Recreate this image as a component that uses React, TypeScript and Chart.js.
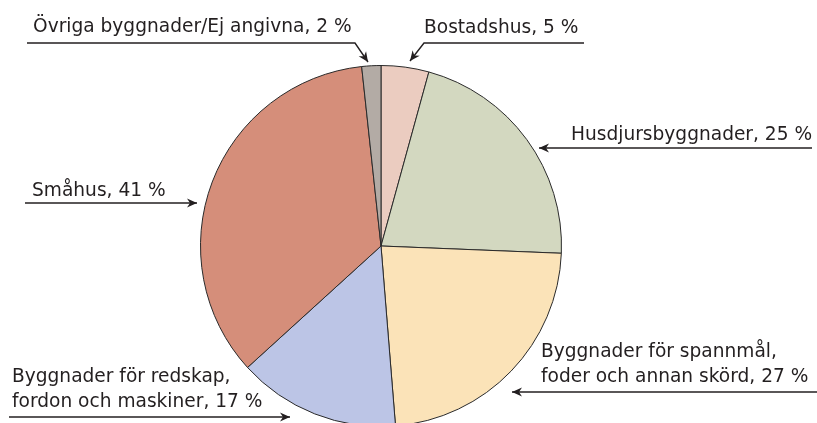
import React, { useEffect, useRef } from "react";
import { Chart, registerables } from "chart.js";

Chart.register(...registerables);

const categories = [
  "Bostadshus",
  "Husdjursbyggnader",
  "Byggnader för spannmål, foder och annan skörd",
  "Byggnader för redskap, fordon och maskiner",
  "Småhus",
  "Övriga byggnader/Ej angivna",
];
const values = [5, 25, 27, 17, 41, 2];
const colors = ["#EBCCC0", "#D3D8C0", "#FBE3B8", "#BCC5E6", "#D58E7A", "#B3ABA5"];

type Ann = {
  lines: string[];
  tx: number;
  ty: number;
  path: [number, number][];
};

const annotations: Ann[] = [
  { lines: ["Bostadshus, 5 %"], tx: 424, ty: 33, path: [[584, 43], [424, 43], [410, 61]] },
  { lines: ["Husdjursbyggnader, 25 %"], tx: 571, ty: 140, path: [[812, 148], [539, 148]] },
  {
    lines: ["Byggnader för spannmål,", "foder och annan skörd, 27 %"],
    tx: 541, ty: 357,
    path: [[817, 392], [512, 392]],
  },
  {
    lines: ["Byggnader för redskap,", "fordon och maskiner, 17 %"],
    tx: 12, ty: 382,
    path: [[9, 417], [290, 417]],
  },
  { lines: ["Småhus, 41 %"], tx: 32, ty: 196, path: [[25, 203], [197, 203]] },
  { lines: ["Övriga byggnader/Ej angivna, 2 %"], tx: 33, ty: 32, path: [[27, 43], [355, 43], [368, 62]] },
];

const FONT = '18.6px "DejaVu Sans", sans-serif';
const LINE_H = 25;

const annotationPlugin = {
  id: "annotations",
  afterDraw(chart: Chart) {
    const ctx = chart.ctx;
    ctx.save();
    ctx.fillStyle = "#231F20";
    ctx.strokeStyle = "#231F20";
    ctx.font = FONT;
    ctx.textBaseline = "alphabetic";
    ctx.textAlign = "left";
    ctx.lineWidth = 1.4;
    for (const a of annotations) {
      a.lines.forEach((l, i) => ctx.fillText(l, a.tx, a.ty + i * LINE_H));
      const p = a.path;
      ctx.beginPath();
      ctx.moveTo(p[0][0], p[0][1]);
      for (let i = 1; i < p.length; i++) ctx.lineTo(p[i][0], p[i][1]);
      ctx.stroke();
      const [x1, y1] = p[p.length - 2];
      const [x2, y2] = p[p.length - 1];
      const ang = Math.atan2(y2 - y1, x2 - x1);
      const L = 10;
      const W = 4.5;
      ctx.beginPath();
      ctx.moveTo(x2, y2);
      ctx.lineTo(x2 - L * Math.cos(ang) + W * Math.sin(ang), y2 - L * Math.sin(ang) - W * Math.cos(ang));
      ctx.lineTo(x2 - 0.7 * L * Math.cos(ang), y2 - 0.7 * L * Math.sin(ang));
      ctx.lineTo(x2 - L * Math.cos(ang) - W * Math.sin(ang), y2 - L * Math.sin(ang) + W * Math.cos(ang));
      ctx.closePath();
      ctx.fill();
    }
    ctx.restore();
  },
};

export default function App() {
  const ref = useRef<HTMLCanvasElement>(null);
  useEffect(() => {
    if (!ref.current) return;
    const chart = new Chart(ref.current, {
      type: "pie",
      data: {
        labels: categories,
        datasets: [
          {
            data: values,
            backgroundColor: colors,
            borderColor: "#2a2a2a",
            borderWidth: 1,
          },
        ],
      },
      options: {
        responsive: false,
        animation: false,
        devicePixelRatio: 1,
        layout: { padding: { left: 200, right: 255, top: 65, bottom: 93 } },
        plugins: { legend: { display: false }, tooltip: { enabled: false } },
      },
      plugins: [annotationPlugin],
    });
    return () => chart.destroy();
  }, []);
  return (
    <div style={{ position: "fixed", left: 0, top: 0, width: 817, height: 423, overflow: "hidden", background: "#fff" }}>
      <canvas ref={ref} width={817} height={520} style={{ width: 817, height: 520, display: "block" }} />
    </div>
  );
}
